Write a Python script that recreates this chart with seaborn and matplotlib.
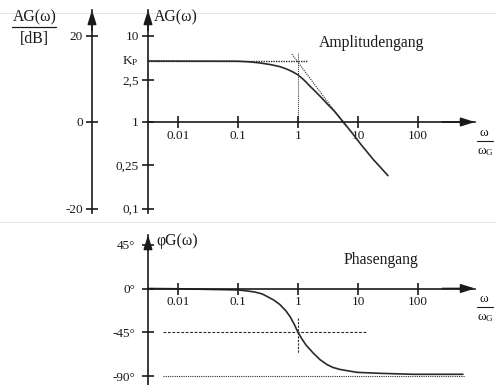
import matplotlib
matplotlib.use("Agg")
import matplotlib.pyplot as plt
import seaborn as sns
import pandas as pd
from matplotlib.lines import Line2D

# ---------------- data ----------------
# amplitude response (dB) vs normalised frequency omega/omega_G
amp_omega = [0.00316, 0.1, 0.158, 0.234, 0.355, 0.5, 0.63, 0.79, 1.0, 1.26,
             1.58, 2.0, 2.51, 3.16, 3.98, 5.62, 7.94, 11.2, 17.8, 31.6]
amp_db = [14.1, 14.05, 13.9, 13.65, 13.25, 12.8, 12.3, 11.7, 10.9, 9.7,
          8.3, 6.9, 5.5, 4.0, 2.6, 0.1, -2.5, -5.2, -8.6, -12.4]

# asymptote of the amplitude response
asym_omega = [0.79, 6.3]
asym_db = [15.7, -1.0]
kp_db = 14.1
kp_line_omega = [0.00316, 1.41]
corner_db = [15.9, 0.0]

# phase response (degrees)
ph_omega = [0.00316, 0.01, 0.1, 0.141, 0.19, 0.251, 0.302, 0.398, 0.5, 0.63,
            0.74, 0.87, 1.0, 1.17, 1.36, 1.78, 2.33, 3.04, 3.83, 5.0, 9.6,
            23.2, 83.0, 560.0]
ph_deg = [0, -0.3, -1.5, -2.5, -3.6, -5.5, -8.0, -12.0, -16.5, -23.0,
          -29.0, -37.0, -45.0, -52.0, -58.0, -66.0, -73.0, -78.0, -81.0, -83.0, -86.0,
          -87.0, -88.0, -88.0]

ref45_omega = [0.0056, 13.6]
ref90_omega = [0.0056, 603.0]
corner_ph = [-30.0, -66.0]

# axes ticks / labels
x_ticks = [0.01, 0.1, 1, 10, 100]
x_tick_labels = ["0.01", "0.1", "1", "10", "100"]
ag_tick_db = [20, 9.7, 0, -10, -20]
ag_tick_labels = ["10", "2,5", "1", "0,25", "0,1"]
db_ticks = [20, 0, -20]
db_tick_labels = ["20", "0", "-20"]
ph_ticks = [45, 0, -45, -90]
ph_tick_labels = ["45°", "0°", "-45°", "-90°"]

# ---------------- style ----------------
sns.set_theme(style="white")
plt.rcParams["font.family"] = ["Liberation Serif", "DejaVu Serif"]
plt.rcParams["mathtext.fontset"] = "custom"
plt.rcParams["mathtext.rm"] = "Liberation Serif"
plt.rcParams["mathtext.it"] = "Liberation Serif"

W, H = 497, 385
fig = plt.figure(figsize=(W / 100, H / 100), dpi=100)
fig.patch.set_facecolor("white")

def fx(x):
    return x / W

def fy(y):
    return 1 - y / H

INK = "#1a1a1a"
CURVE = "#2a2a2a"
LW = 1.2
TICKFS = 9.5
LABFS = 11.3
TICKLEN = 8
ARROW = dict(arrowstyle="-|>,head_length=0.7,head_width=0.22", color=INK,
             lw=LW, shrinkA=0, shrinkB=0)

xlo, xhi = 10 ** (-150 / 60), 10 ** (177 / 60)

def style_axis(ax):
    ax.set_facecolor("none")
    ax.set_xscale("log")
    ax.set_xlim(xlo, xhi)
    for s in ["top", "right"]:
        ax.spines[s].set_visible(False)
    for s in ["left", "bottom"]:
        ax.spines[s].set_color(INK)
        ax.spines[s].set_linewidth(LW)
    ax.spines["bottom"].set_position(("data", 0))
    ax.set_xticks(x_ticks)
    ax.set_xticklabels(x_tick_labels)
    ax.xaxis.set_minor_locator(matplotlib.ticker.NullLocator())
    ax.tick_params(axis="both", which="major", bottom=True, left=True,
                   top=False, right=False, direction="inout", length=TICKLEN,
                   width=LW, color=INK, labelcolor=INK, labelsize=TICKFS)
    ax.tick_params(axis="x", pad=1.5)
    ax.tick_params(axis="y", pad=2.5)
    ax.grid(False)
    ax.annotate("", xy=(0, 1), xytext=(0, 0.9), xycoords="axes fraction",
                arrowprops=ARROW, annotation_clip=False)
    ax.annotate("", xy=(1.0, 0), xytext=(0.9, 0), xycoords=ax.get_yaxis_transform(),
                arrowprops=ARROW, annotation_clip=False)

# ---------------- amplitude panel ----------------
px_per_db = 86.5 / 20
top_db = (122 - 10) / px_per_db
bot_db = (122 - 213) / px_per_db
ax1 = fig.add_axes([fx(148), fy(213), fx(475 - 148), (213 - 10) / H])
ax1.set_ylim(bot_db, top_db)
style_axis(ax1)
ax1.set_yticks(ag_tick_db)
ax1.set_yticklabels(ag_tick_labels)

amp_df = pd.DataFrame({"omega": amp_omega, "db": amp_db})
sns.lineplot(data=amp_df, x="omega", y="db", ax=ax1, color=CURVE, lw=1.2,
             estimator=None, sort=False)
sns.lineplot(x=asym_omega, y=asym_db, ax=ax1, color=CURVE, lw=0.8,
             linestyle=(0, (1, 1)), estimator=None, sort=False)
sns.lineplot(x=kp_line_omega, y=[kp_db, kp_db], ax=ax1, color=CURVE, lw=1.0,
             linestyle=(0, (1, 0.8)), estimator=None, sort=False)
sns.lineplot(x=[1, 1], y=corner_db, ax=ax1, color=CURVE, lw=0.7,
             linestyle=(0, (1, 1)), estimator=None, sort=False)
ax1.set_xlabel("")
ax1.set_ylabel("")

# K_P label
ax1.text(-0.03, kp_db, r"$\mathregular{K_P}$", transform=ax1.get_yaxis_transform(),
         ha="right", va="center", fontsize=TICKFS, color=INK)

# dB axis
ax0 = fig.add_axes([fx(92), fy(213), 0.0001, (213 - 10) / H])
ax0.set_facecolor("none")
ax0.set_ylim(bot_db, top_db)
ax0.set_xticks([])
for s in ["top", "right", "bottom"]:
    ax0.spines[s].set_visible(False)
ax0.spines["left"].set_color(INK)
ax0.spines["left"].set_linewidth(LW)
ax0.set_yticks(db_ticks)
ax0.set_yticklabels(db_tick_labels)
ax0.tick_params(axis="y", left=True, right=False, direction="inout", length=TICKLEN,
                width=LW, color=INK, labelcolor=INK, labelsize=TICKFS, pad=2.5)
ax0.annotate("", xy=(0, 1), xytext=(0, 0.9), xycoords="axes fraction",
             arrowprops=ARROW, annotation_clip=False)

# ---------------- phase panel ----------------
px_per_deg = 0.975
ph_top = (288.5 - 235) / px_per_deg
ph_bot = (288.5 - 385) / px_per_deg
ax2 = fig.add_axes([fx(148), 0, fx(475 - 148), (385 - 235) / H])
ax2.set_ylim(ph_bot, ph_top)
style_axis(ax2)
ax2.set_yticks(ph_ticks)
ax2.set_yticklabels(ph_tick_labels)
ax2.tick_params(axis="y", pad=5)

ph_df = pd.DataFrame({"omega": ph_omega, "deg": ph_deg})
sns.lineplot(data=ph_df, x="omega", y="deg", ax=ax2, color=CURVE, lw=1.2,
             estimator=None, sort=False)
sns.lineplot(x=ref45_omega, y=[-45, -45], ax=ax2, color=CURVE, lw=0.8,
             linestyle=(0, (2.5, 1.5)), estimator=None, sort=False)
sns.lineplot(x=ref90_omega, y=[-90, -90], ax=ax2, color=CURVE, lw=0.8,
             linestyle=(0, (1, 1)), estimator=None, sort=False)
sns.lineplot(x=[1, 1], y=corner_ph, ax=ax2, color=CURVE, lw=0.8,
             linestyle=(0, (2, 1.2)), estimator=None, sort=False)
ax2.set_xlabel("")
ax2.set_ylabel("")

# ---------------- texts ----------------
fig.text(fx(35), fy(17), "AG(ω)", ha="center", va="center", fontsize=LABFS, color=INK)
fig.add_artist(Line2D([fx(12), fx(56)], [fy(27), fy(27)], color=INK, lw=0.9))
fig.text(fx(34), fy(39), "[dB]", ha="center", va="center", fontsize=LABFS, color=INK)
fig.text(fx(154), fy(17), "AG(ω)", ha="left", va="center", fontsize=LABFS, color=INK)
fig.text(fx(372), fy(43), "Amplitudengang", ha="center", va="center", fontsize=LABFS, color=INK)
fig.text(fx(156), fy(241), "φG(ω)", ha="left", va="center", fontsize=LABFS, color=INK)
fig.text(fx(381), fy(260), "Phasengang", ha="center", va="center", fontsize=LABFS, color=INK)

for ya in (122, 288):
    fig.text(fx(484), fy(ya + 11), "ω", ha="center", va="center", fontsize=TICKFS, color=INK)
    fig.add_artist(Line2D([fx(477), fx(493)], [fy(ya + 19), fy(ya + 19)], color=INK, lw=0.8))
    fig.text(fx(486), fy(ya + 30), r"$\mathregular{\omega_G}$", ha="center", va="center",
             fontsize=TICKFS, color=INK)

# faint page rules of the scanned page
for yy in (13, 222):
    fig.add_artist(Line2D([0, 1], [fy(yy), fy(yy)], color="#9a9a9a", lw=0.6,
                          linestyle=(0, (1, 1)), alpha=0.6))

fig.savefig("out.png", dpi=100, facecolor="white")
